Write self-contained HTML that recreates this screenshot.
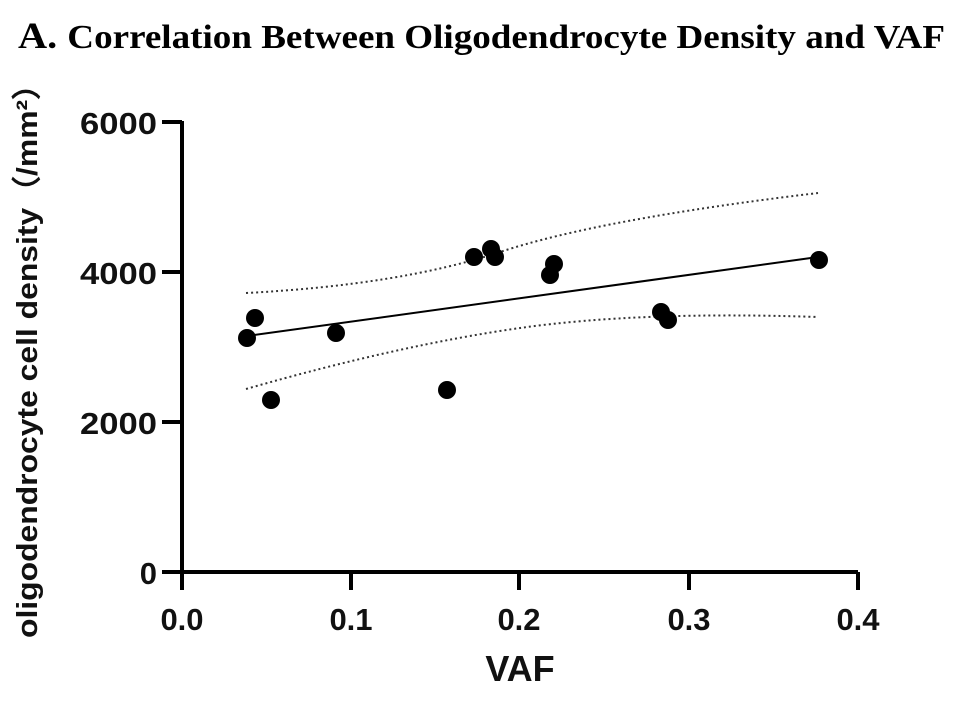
<!DOCTYPE html>
<html><head><style>body{margin:0;background:#fff}</style></head><body>
<svg width="977" height="709" xmlns="http://www.w3.org/2000/svg">
<text x="18" y="48" font-family="Liberation Serif, serif" font-weight="bold" font-size="37" textLength="927" lengthAdjust="spacingAndGlyphs">A. <tspan font-size="34">Correlation Between Oligodendrocyte Density and VAF</tspan></text>
<g stroke="#000" stroke-width="4" fill="none">
<path d="M182 121 V572 H858"/>
<path d="M162 122 H182 M162 272 H182 M162 422 H182 M162 572 H182"/>
<path d="M182 572 V590 M351 572 V590 M519 572 V590 M689 572 V590 M858 572 V590"/>
</g>
<g font-family="Liberation Sans, sans-serif" font-weight="bold" font-size="31" fill="#111">
<text x="157" y="134" text-anchor="end" textLength="77" lengthAdjust="spacingAndGlyphs">6000</text>
<text x="157" y="284" text-anchor="end" textLength="77" lengthAdjust="spacingAndGlyphs">4000</text>
<text x="157" y="434" text-anchor="end" textLength="77" lengthAdjust="spacingAndGlyphs">2000</text>
<text x="157" y="584" text-anchor="end">0</text>
<text x="182" y="630" text-anchor="middle">0.0</text>
<text x="351" y="630" text-anchor="middle">0.1</text>
<text x="519" y="630" text-anchor="middle">0.2</text>
<text x="689" y="630" text-anchor="middle">0.3</text>
<text x="858" y="630" text-anchor="middle">0.4</text>
<text x="520" y="681" text-anchor="middle" font-size="36">VAF</text>
<text transform="translate(37,353) rotate(-90)" text-anchor="middle" font-size="29" textLength="570" lengthAdjust="spacingAndGlyphs">oligodendrocyte cell density（/mm²）</text>
</g>
<path d="M247 336 L818 257" stroke="#000" stroke-width="2"/>
<g stroke="#333" stroke-width="2" stroke-dasharray="2,3" fill="none">
<path d="M246 293 Q400 285 500 252 T818 193"/>
<path d="M246 389 Q400 345 520 328 T818 317"/>
</g>
<g fill="#000">
<circle cx="247" cy="338" r="9"/><circle cx="255" cy="318" r="9"/><circle cx="271" cy="400" r="9"/>
<circle cx="336" cy="333" r="9"/><circle cx="447" cy="390" r="9"/><circle cx="474" cy="257" r="9"/>
<circle cx="491" cy="249" r="9"/><circle cx="495" cy="257" r="9"/><circle cx="550" cy="275" r="9"/>
<circle cx="554" cy="264" r="9"/><circle cx="661" cy="312" r="9"/><circle cx="668" cy="320" r="9"/>
<circle cx="819" cy="260" r="9"/>
</g>
</svg>
</body></html>
